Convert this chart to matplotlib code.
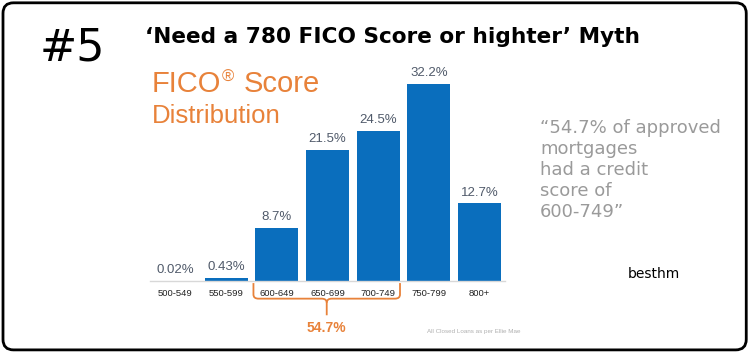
import matplotlib.pyplot as plt
import numpy as np
from matplotlib.patches import FancyBboxPatch
from matplotlib.path import Path
from matplotlib.patches import PathPatch
import matplotlib.transforms as mtransforms

# data
categories = ['500-549', '550-599', '600-649', '650-699', '700-749', '750-799', '800+']
shares = [0.02, 0.43, 8.7, 21.5, 24.5, 32.2, 12.7]
share_labels = ['0.02%', '0.43%', '8.7%', '21.5%', '24.5%', '32.2%', '12.7%']
bracket_total = '54.7%'

blue = '#0A6EBD'
orange = '#E8823A'
grey = '#9A9A9A'

fig = plt.figure(figsize=(7.5, 3.52), dpi=100)
fig.patch.set_facecolor('white')

# rounded frame round the whole picture
frame = FancyBboxPatch((0.004, 0.006), 0.991, 0.986,
                       boxstyle='round,pad=0,rounding_size=0.014',
                       transform=fig.transFigure, fill=False,
                       edgecolor='black', linewidth=2, mutation_aspect=750/352)
fig.patches.append(frame)

ax = fig.add_axes([0.2, 0.2017, 0.4733, 0.59])
x = np.arange(len(categories))
ax.bar(x, shares, width=0.85, color=blue)
ax.set_xlim(-0.5, 6.5)
ax.set_ylim(0, 34)
for s in ['top', 'right', 'left']:
    ax.spines[s].set_visible(False)
ax.spines['bottom'].set_color('#D8D8D8')
ax.spines['bottom'].set_linewidth(1)
ax.set_yticks([])
ax.set_xticks(x)
ax.set_xticklabels(categories, fontsize=6.8, family='Liberation Sans', color='#222222')
ax.tick_params(axis='x', length=0, pad=6)

for xi, v, lab in zip(x, shares, share_labels):
    ax.text(xi, v + 0.8, lab, ha='center', va='bottom', fontsize=9.5,
            family='Liberation Sans', color='#505A6A')

# bracket under 600-749
tr = mtransforms.blended_transform_factory(ax.transData, ax.transAxes)
x0, x1 = 2 - 0.46, 4 + 0.43
xm = (x0 + x1) / 2
ytop, ybot, ytip = -0.01, -0.085, -0.165
r = 0.1
verts = [(x0, ytop), (x0, ybot + 0.02), (x0, ybot), (x0 + r, ybot),
         (xm - r, ybot), (xm, ybot), (xm, ybot - 0.02), (xm, ytip)]
codes = [Path.MOVETO, Path.LINETO, Path.CURVE3, Path.CURVE3,
         Path.LINETO, Path.CURVE3, Path.CURVE3, Path.LINETO]
ax.add_patch(PathPatch(Path(verts, codes), transform=tr, fill=False,
                       edgecolor=orange, linewidth=1.3, clip_on=False))
verts2 = [(x1, ytop), (x1, ybot + 0.02), (x1, ybot), (x1 - r, ybot),
          (xm + r, ybot), (xm, ybot), (xm, ybot - 0.02)]
codes2 = [Path.MOVETO, Path.LINETO, Path.CURVE3, Path.CURVE3,
          Path.LINETO, Path.CURVE3, Path.CURVE3]
ax.add_patch(PathPatch(Path(verts2, codes2), transform=tr, fill=False,
                       edgecolor=orange, linewidth=1.3, clip_on=False))
ax.text(xm, -0.225, bracket_total, transform=tr, ha='center', va='center',
        fontsize=10, fontweight='bold', family='Liberation Sans', color=orange)

fig.text(427 / 750, 1 - 332 / 352, 'All Closed Loans as per Ellie Mae', fontsize=4.5,
         family='Liberation Sans', color='#B0B0B0', va='center')

# headings
fig.text(40 / 750, 1 - 48 / 352, '#5', fontsize=32, va='center', ha='left')
fig.text(145 / 750, 1 - 37 / 352, '\u2018Need a 780 FICO Score or highter\u2019 Myth',
         fontsize=15.6, fontweight='bold', va='center', ha='left')
fig.text(152 / 750, 1 - 84 / 352, 'FICO', fontsize=21,
         family='Liberation Sans', color=orange, va='center', ha='left')
fig.text(222 / 750, 1 - 77 / 352, '\u00ae', fontsize=12,
         family='Liberation Sans', color=orange, va='center', ha='left')
fig.text(244 / 750, 1 - 84 / 352, 'Score', fontsize=21,
         family='Liberation Sans', color=orange, va='center', ha='left')
fig.text(152 / 750, 1 - 116 / 352, 'Distribution', fontsize=18.5,
         family='Liberation Sans', color=orange, va='center', ha='left')

fig.text(540 / 750, 1 - 119 / 352,
         '\u201c54.7% of approved\nmortgages\nhad a credit\nscore of\n600-749\u201d',
         fontsize=13, color=grey, va='top', ha='left', linespacing=1.22)
fig.text(628 / 750, 1 - 274 / 352, 'besthm', fontsize=10, va='center', ha='left')

fig.savefig('out.png', dpi=100)
